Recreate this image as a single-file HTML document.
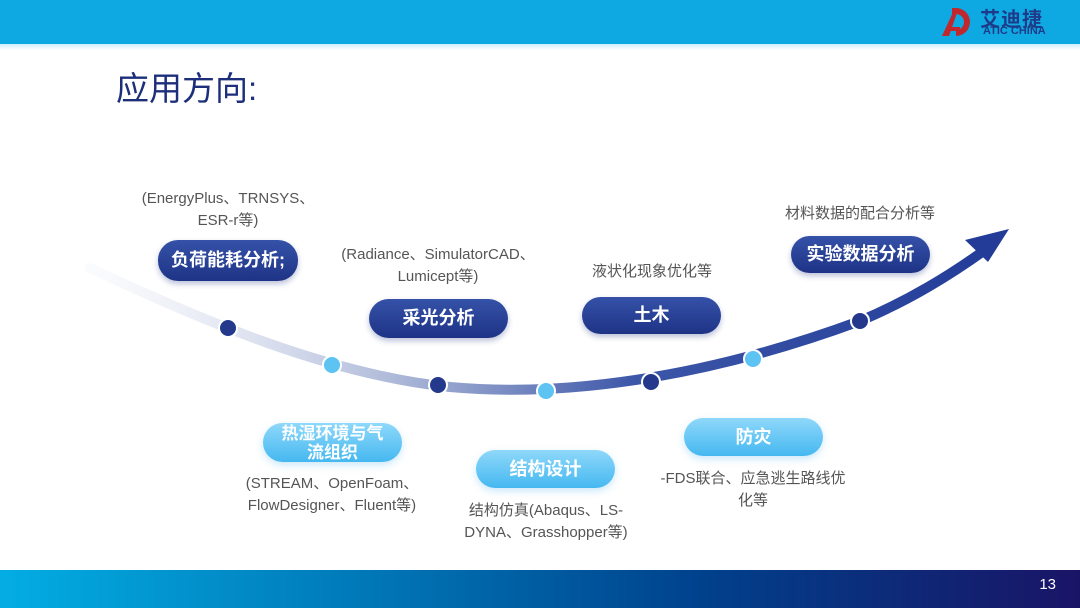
<!DOCTYPE html>
<html><head><meta charset="utf-8"><style>
body{margin:0;width:1080px;height:608px;position:relative;overflow:hidden;background:#fff;font-family:"Liberation Sans","Noto Sans CJK SC",sans-serif}
.top{position:absolute;left:0;top:0;width:1080px;height:44px;background:#0ea9e2}
.top2{position:absolute;left:0;top:44px;width:1080px;height:6px;background:linear-gradient(#cdeefa,#fff)}
.bot{position:absolute;left:0;top:570px;width:1080px;height:38px;background:linear-gradient(90deg,#03ade3,#0076b6 35%,#00418c 65%,#1a1466)}
.num{position:absolute;right:24px;top:576px;color:#fff;font-size:15px}
.title{position:absolute;left:116px;top:62px;font-size:33px;color:#1d2f7a}
.pill{position:absolute;border-radius:20px;color:#fff;font-weight:bold;font-size:18px;display:flex;align-items:center;justify-content:center;text-align:center;line-height:19px}
.d{background:linear-gradient(#3552a8,#1e3386);box-shadow:0 3px 6px rgba(30,50,130,.3)}
.l{background:linear-gradient(#8fd8fa,#45b8f0);box-shadow:0 3px 8px rgba(80,180,240,.3)}
.t{position:absolute;color:#555;font-size:15px;text-align:center;line-height:22px}
</style></head><body>
<div class="top"></div><div class="top2"></div>
<svg style="position:absolute;left:940px;top:5px" width="38" height="32">
<path d="M16 3 A14 14 0 0 1 16 31 L16 25 A8 8 0 0 0 16 9Z" fill="#c0282d"/>
<path d="M16 3 L16 9 L12 9 L12 3Z" fill="#c0282d"/>
<path d="M2 31 L14 5 L18 5 L9 31Z" fill="#c0282d"/>
<path d="M10 22 L20 22 L20 26 L8 26Z" fill="#c0282d"/>
</svg>
<div style="position:absolute;left:980px;top:3px;font-size:20px;color:#1e3b8a;font-weight:bold;letter-spacing:1px">艾迪捷</div>
<div style="position:absolute;left:983px;top:25px;font-size:11px;color:#1e3b8a;font-weight:bold">ATIC CHINA</div>
<div class="title">应用方向:</div>
<svg style="position:absolute;left:0;top:0" width="1080" height="608">
<defs><linearGradient id="g" x1="90" y1="0" x2="1000" y2="0" gradientUnits="userSpaceOnUse">
<stop offset="0" stop-color="#e8ecf6" stop-opacity="0.2"/><stop offset="0.35" stop-color="#a8b4d6"/><stop offset="0.6" stop-color="#3c56a8"/><stop offset="1" stop-color="#233c98"/></linearGradient></defs>
<path d="M90 268 C200 320 330 375 450 387 C560 397 700 380 860 321 C910 300 950 275 985 250" stroke="url(#g)" stroke-width="10" fill="none" stroke-linecap="round"/>
<polygon points="1009,229 965,240 988,262" fill="#233c98"/>
<g stroke="#fff" stroke-width="2">
<circle cx="228" cy="328" r="9" fill="#24398c"/>
<circle cx="332" cy="365" r="9" fill="#5cc3f2"/>
<circle cx="438" cy="385" r="9" fill="#24398c"/>
<circle cx="546" cy="391" r="9" fill="#5cc3f2"/>
<circle cx="651" cy="382" r="9" fill="#24398c"/>
<circle cx="753" cy="359" r="9" fill="#5cc3f2"/>
<circle cx="860" cy="321" r="9" fill="#24398c"/>
</g></svg>
<div class="t" style="left:118px;top:188px;width:220px">(EnergyPlus、TRNSYS、<br>ESR-r等)</div>
<div class="pill d" style="left:158px;top:240px;width:140px;height:41px">负荷能耗分析;</div>
<div class="t" style="left:318px;top:244px;width:240px">(Radiance、SimulatorCAD、<br>Lumicept等)</div>
<div class="pill d" style="left:369px;top:299px;width:139px;height:39px">采光分析</div>
<div class="t" style="left:562px;top:261px;width:180px">液状化现象优化等</div>
<div class="pill d" style="left:582px;top:297px;width:139px;height:37px">土木</div>
<div class="t" style="left:760px;top:203px;width:200px">材料数据的配合分析等</div>
<div class="pill d" style="left:791px;top:236px;width:139px;height:37px">实验数据分析</div>
<div class="pill l" style="left:263px;top:423px;width:139px;height:39px;font-size:17px">热湿环境与气<br>流组织</div>
<div class="t" style="left:222px;top:473px;width:220px">(STREAM、OpenFoam、<br>FlowDesigner、Fluent等)</div>
<div class="pill l" style="left:476px;top:450px;width:139px;height:38px">结构设计</div>
<div class="t" style="left:440px;top:500px;width:212px">结构仿真(Abaqus、LS-<br>DYNA、Grasshopper等)</div>
<div class="pill l" style="left:684px;top:418px;width:139px;height:38px">防灾</div>
<div class="t" style="left:648px;top:468px;width:210px">-FDS联合、应急逃生路线优<br>化等</div>
<div class="bot"></div><div class="num">13</div>
</body></html>
